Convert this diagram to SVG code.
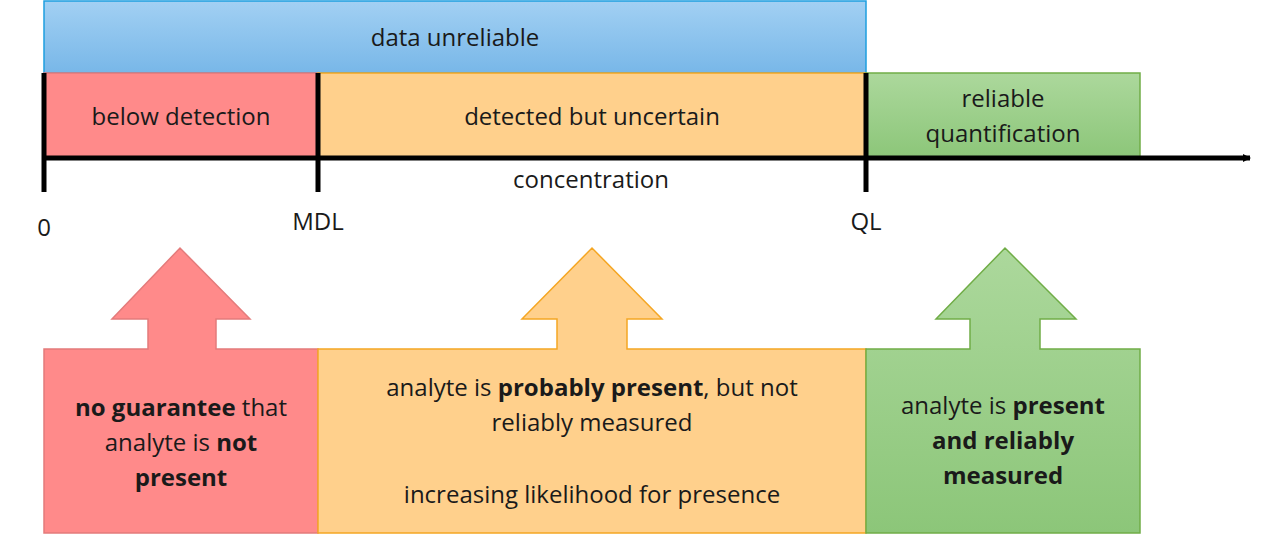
<svg xmlns="http://www.w3.org/2000/svg" width="1280" height="540" viewBox="0 0 1280 540">
<style>
text{font-family:"Open Sans","Noto Sans",sans-serif;font-size:24px;fill:#1a1a1a;text-anchor:middle}
.b{font-weight:bold}
.red{fill:#ff8a8a;stroke:#e47b7b;stroke-width:1.5}
.org{fill:#ffd08c;stroke:#f5a623;stroke-width:1.5}
.grn{fill:url(#g);stroke:#70ad47;stroke-width:1.5}
.ax{stroke:#000;stroke-width:5;fill:none}
</style>
<defs>
<linearGradient id="bl" x1="0" y1="0" x2="0" y2="1"><stop offset="0" stop-color="#a2d0f3"/><stop offset="1" stop-color="#78b7e8"/></linearGradient>
<linearGradient id="g" x1="0" y1="0" x2="0" y2="1"><stop offset="0" stop-color="#acd89c"/><stop offset="1" stop-color="#8cc679"/></linearGradient>
<marker id="ah" markerWidth="8" markerHeight="8" refX="7" refY="4" orient="auto" markerUnits="userSpaceOnUse"><path d="M0,0 L8,4 L0,8 z" fill="#000"/></marker>
<marker id="oh" markerWidth="12" markerHeight="10" refX="11" refY="5" orient="auto" markerUnits="userSpaceOnUse"><path d="M0,0 L12,5 L0,10 z" fill="#ed7d31"/></marker>
</defs>
<g id="unreliable"><rect x="44" y="1" width="822" height="72" fill="url(#bl)" stroke="#1e9fdf" stroke-width="1.5"/><text x="455" y="46">data unreliable</text></g>
<g id="below"><rect class="red" x="44" y="73" width="274" height="85"/><text x="181" y="125">below detection</text></g>
<g id="detected"><rect class="org" x="318" y="73" width="548" height="85"/><text x="592" y="125">detected but uncertain</text></g>
<g id="reliable"><rect class="grn" x="866" y="73" width="274" height="85"/><text x="1003" y="107">reliable</text><text x="1003" y="142">quantification</text></g>
<g id="connectors">
<path class="ax" d="M44,158 H1250" marker-end="url(#ah)"/>
<path class="ax" d="M44,73 V192 M318,73 V192 M866,73 V192"/>
<path d="M318,469 H864" stroke="#ed7d31" stroke-width="3" marker-end="url(#oh)"/>
</g>
<text x="591" y="188">concentration</text>
<text x="44" y="236">0</text>
<text x="318" y="230">MDL</text>
<text x="866" y="230">QL</text>
<g id="nodata"><path class="red" d="M44,349 H148 V319 H112 L180,248 L250,319 H216 V349 H318 V533 H44 Z"/>
<text x="181" y="416"><tspan class="b">no guarantee</tspan> that</text><text x="181" y="451">analyte is <tspan class="b">not</tspan></text><text x="181" y="486" class="b">present</text></g>
<g id="probable"><path class="org" d="M318,349 H557 V319 H522 L592,248 L662,319 H627 V349 H866 V533 H318 Z"/>
<text x="592" y="396">analyte is <tspan class="b">probably present</tspan>, but not</text><text x="592" y="431">reliably measured</text><text x="592" y="503">increasing likelihood for presence</text></g>
<g id="present"><path class="grn" d="M866,349 H970 V319 H936 L1005,248 L1076,319 H1040 V349 H1140 V533 H866 Z"/>
<text x="1003" y="414">analyte is <tspan class="b">present</tspan></text><text x="1003" y="449" class="b">and reliably</text><text x="1003" y="484" class="b">measured</text></g>
</svg>
